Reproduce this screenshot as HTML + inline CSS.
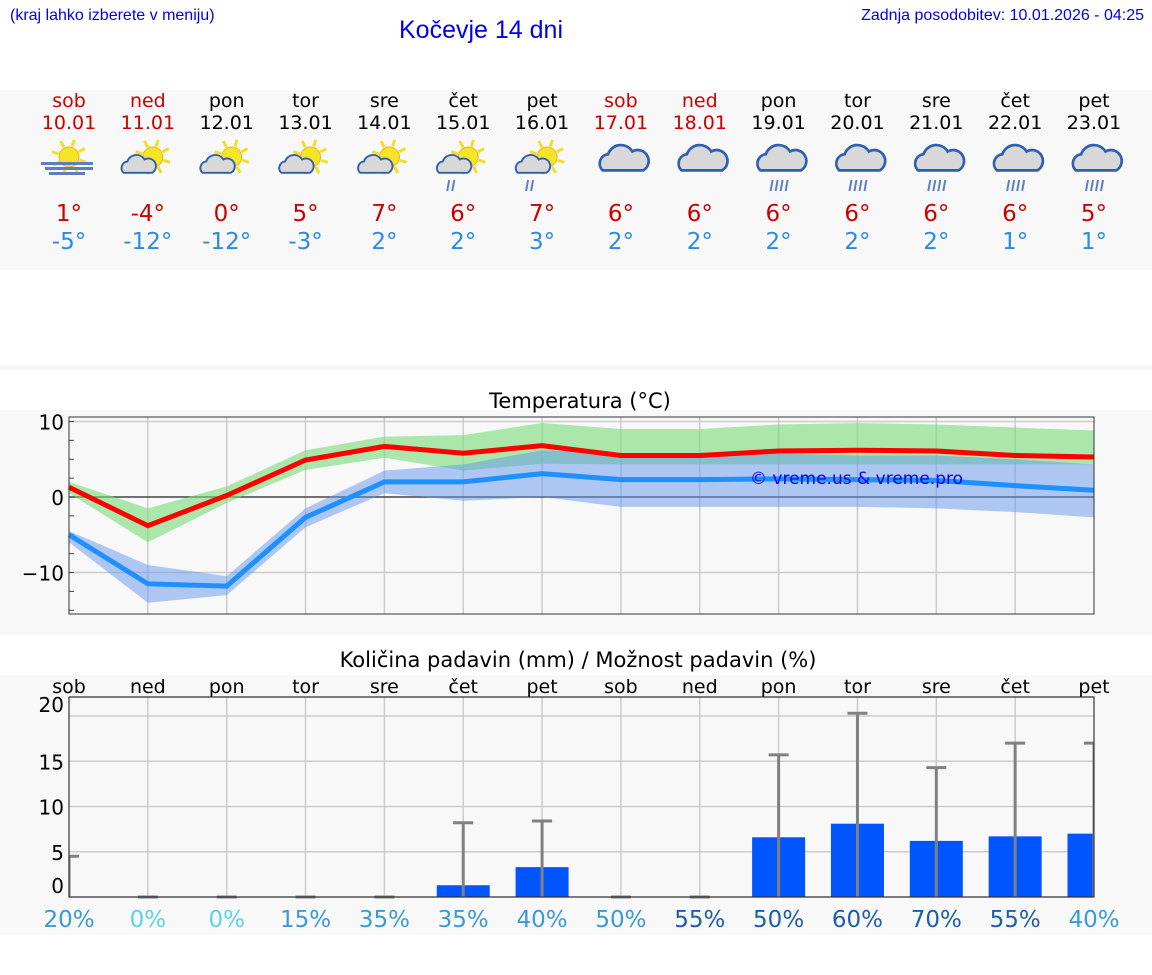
<!DOCTYPE html>
<html><head><meta charset="utf-8">
<style>
body{margin:0;width:1152px;height:975px;background:#fff;font-family:"Liberation Sans","DejaVu Sans",sans-serif;position:relative;overflow:hidden}
.abs{position:absolute}
</style></head><body>
<div class="abs" style="left:10px;top:7px;font-size:16px;color:#0000ee">(kraj lahko izberete v meniju)</div>
<div class="abs" style="left:399px;top:16px;font-size:25px;color:#0000ee">Kočevje 14 dni</div>
<div class="abs" style="right:8px;top:7px;font-size:16px;color:#0000ee">Zadnja posodobitev: 10.01.2026 - 04:25</div>
<div class="abs" style="left:0;top:90px;width:1152px;height:180px;background:#f8f8f8"></div>
<div class="abs" style="left:0;top:365px;width:1152px;height:5px;background:#f8f8f8"></div>
<div class="abs" style="left:0;top:410px;width:1152px;height:225px;background:#f8f8f8"></div>
<div class="abs" style="left:0;top:675px;width:1152px;height:260px;background:#f8f8f8"></div>
<svg class="abs" id="chart" style="left:0;top:0" width="1152" height="975" xmlns="http://www.w3.org/2000/svg" font-family="DejaVu Sans, Liberation Sans, sans-serif"></svg>
<script>
const days=["sob","ned","pon","tor","sre","čet","pet","sob","ned","pon","tor","sre","čet","pet"];
const dates=["10.01","11.01","12.01","13.01","14.01","15.01","16.01","17.01","18.01","19.01","20.01","21.01","22.01","23.01"];
const icons=["fog","pc","pc","pc","pc","pcr","pcr","c","c","r","r","r","r","r"];
const maxT=[1,-4,0,5,7,6,7,6,6,6,6,6,6,5];
const minT=[-5,-12,-12,-3,2,2,3,2,2,2,2,2,1,1];
const maxLine=[1.3,-3.8,0.2,4.9,6.7,5.8,6.8,5.5,5.5,6.1,6.2,6.1,5.5,5.3];
const maxHi=[2,-1.5,1.4,6.2,8,8.2,9.8,9,9,9.6,9.8,9.6,9.2,8.8];
const maxLo=[0.5,-6,-0.8,3.6,5.2,3.5,4.4,4.3,4.3,4.3,4.3,4.3,4.3,4.3];
const minLine=[-5,-11.5,-11.8,-2.7,2,2,3.1,2.3,2.3,2.4,2.3,2.2,1.5,0.9];
const minHi=[-4.5,-9,-10.5,-1.5,3.5,4.3,6.2,5.8,5.8,5.8,5.5,5.5,5.0,4.3];
const minLo=[-6,-14,-13,-4,0.5,-0.5,0,-1.3,-1.3,-1.3,-1.3,-1.5,-2,-2.7];
const precip=[0,0,0,0,0,1.3,3.3,0,0,6.6,8.1,6.2,6.7,7.0];
const precipMax=[4.5,0,0,0,0,8.2,8.4,0,0,15.7,20.3,14.3,17,17];
const chance=[20,0,0,15,35,35,40,50,55,50,60,70,55,40];
const tTicks=[10,0,-10];
const pTicks=[20,15,10,5,0];
const NS="http://www.w3.org/2000/svg";
const X0=69,X1=1094,step=(X1-X0)/13;
const xp=i=>X0+i*step;
const yT=v=>497-v*7.55;
const yP=v=>897-v*9.05;
const svg=document.getElementById('chart');
function el(t,a,p){const e=document.createElementNS(NS,t);for(const k in a)e.setAttribute(k,a[k]);(p||svg).appendChild(e);return e;}
function txt(s,a,p){const e=el('text',a,p);e.textContent=s;return e;}
const defs=el('defs',{});
const cp=el('clipPath',{id:'pclip'},defs);el('rect',{x:X0,y:690,width:X1-X0,height:210},cp);
days.forEach((d,i)=>{
 const x=xp(i);const wk=(d==="sob"||d==="ned");
 const t1=txt(d,{x:x,y:107,'text-anchor':'middle','font-size':19,fill:wk?'#cc0000':'#000'});
 
 const t2=txt(dates[i],{x:x,y:129,'text-anchor':'middle','font-size':19,fill:wk?'#cc0000':'#000'});
 
 const g=el('g',{transform:`translate(${x},165)`});
 
 const ic=icons[i];
 if(ic!=="c"&&ic!=="r"){
  const sx=ic==="fog"?0:5, sy=-8;
  for(let k=0;k<8;k++){const a=k*Math.PI/4+0.3;el('line',{x1:sx+Math.cos(a)*11,y1:sy+Math.sin(a)*11,x2:sx+Math.cos(a)*18,y2:sy+Math.sin(a)*18,stroke:'#f2e020','stroke-width':3},g);}
  el('circle',{cx:sx,cy:sy,r:10,fill:'#f5e527',stroke:'#f0b020','stroke-width':1},g);
 }
 if(ic==="fog"){[0,5,10].forEach((dy,j)=>el('rect',{x:j==1?-24:-28+j*4,y:-3+dy,width:j==1?48:52-j*8,height:3,fill:'#5b7fc0'},g));}
 else{
  const big=(ic==="c"||ic==="r");
  const cg=el('g',{transform:big?'translate(2,0) scale(1.35)':'translate(-10,4) scale(0.95)'},g);
  el('path',{d:`M-15,4 a7,7 0 0 1 4,-12 a10,10 0 0 1 18,-2 a8,8 0 0 1 8,14 z`,fill:'#d8d8d8',stroke:'#2f5fb0','stroke-width':2},cg);
  if(ic==="pcr"||ic==="r"){const n=ic==="r"?4:2;const bx=ic==="r"?-6:-14;for(let k=0;k<n;k++)el('line',{x1:bx+k*5,y1:15,x2:bx-2+k*5,y2:26,stroke:'#5b7fc0','stroke-width':2},g);}
 }
 const a=txt(maxT[i]+"°",{x:x,y:221,'text-anchor':'middle','font-size':23,fill:'#cc0000'});
 
 const b=txt(minT[i]+"°",{x:x,y:249,'text-anchor':'middle','font-size':23,fill:'#2a8ae6'});
 
});
const tt=txt("Temperatura (°C)",{x:580,y:408,'text-anchor':'middle','font-size':21,fill:'#000'});

el('rect',{x:X0,y:417,width:X1-X0,height:197,fill:'#f8f8f8'});
for(let i=1;i<13;i++)el('line',{x1:xp(i),y1:417,x2:xp(i),y2:614,stroke:'#ccc','stroke-width':1.5});
tTicks.forEach(v=>{el('line',{x1:X0,y1:yT(v),x2:X1,y2:yT(v),stroke:v==0?'#444':'#ccc','stroke-width':1.5});
 const l=txt(v<0?"−"+(-v):v,{x:64,y:yT(v)+8,'text-anchor':'end','font-size':20});});
for(let v=-15;v<=10;v+=2.5)el('line',{x1:X0,y1:yT(v),x2:X0+5,y2:yT(v),stroke:'#444'});
function band(hi,lo,fill,name){const pts=hi.map((v,i)=>xp(i)+','+yT(v)).concat(lo.map((v,i)=>xp(i)+','+yT(v)).reverse());const p=el('polygon',{points:pts.join(' '),fill:fill});}
function line(vals,col,name){const p=el('polyline',{points:vals.map((v,i)=>xp(i)+','+yT(v)).join(' '),fill:'none',stroke:col,'stroke-width':5});}
band(maxHi,maxLo,'rgba(120,220,120,0.6)','max-temp-band');
band(minHi,minLo,'rgba(100,150,235,0.5)','min-temp-band');
line(minLine,'#1e90ff','min-temp-line');line(maxLine,'#ff0000','max-temp-line');
el('rect',{x:X0,y:417,width:X1-X0,height:197,fill:'none',stroke:'#333','stroke-width':1});
const wm=txt("© vreme.us & vreme.pro",{x:750,y:484,'font-size':17,fill:'#0000ee'});
const pt=txt("Količina padavin (mm) / Možnost padavin (%)",{x:578,y:667,'text-anchor':'middle','font-size':21});

days.forEach((d,i)=>{const t=txt(d,{x:xp(i),y:693,'text-anchor':'middle','font-size':19});});
for(let i=1;i<13;i++)el('line',{x1:xp(i),y1:697,x2:xp(i),y2:897,stroke:'#ccc','stroke-width':1.5});
pTicks.forEach(v=>{if(v>0)el('line',{x1:X0,y1:yP(v),x2:X1,y2:yP(v),stroke:'#ccc','stroke-width':1.5});
 const l=txt(v,{x:64,y:v==0?893:(v==20?712:yP(v)+8),'text-anchor':'end','font-size':20});});
const pg=el('g',{'clip-path':'url(#pclip)'});
precip.forEach((v,i)=>{if(v>0){const r=el('rect',{x:xp(i)-26.5,y:yP(v),width:53,height:yP(0)-yP(v),fill:'#0055ff'},pg);}});
precipMax.forEach((v,i)=>{const x=xp(i);const g=el('g',{},pg);
 el('line',{x1:x,y1:yP(0),x2:x,y2:yP(v),stroke:'#808080','stroke-width':3},g);el('line',{x1:x-10,y1:yP(v),x2:x+10,y2:yP(v),stroke:'#808080','stroke-width':3},g);});
el('polyline',{points:`${X0},697 ${X1},697 ${X1},897 ${X0},897 ${X0},697`,fill:'none',stroke:'#333','stroke-width':1.2});
chance.forEach((c,i)=>{let col='#3a9ad6';if(c==0)col='#5bd4e6';else if(i>=8&&c>=50)col='#1a5fa8';
 const t=txt(c+"%",{x:xp(i),y:927,'text-anchor':'middle','font-size':23,fill:col});});
</script>
</body></html>
